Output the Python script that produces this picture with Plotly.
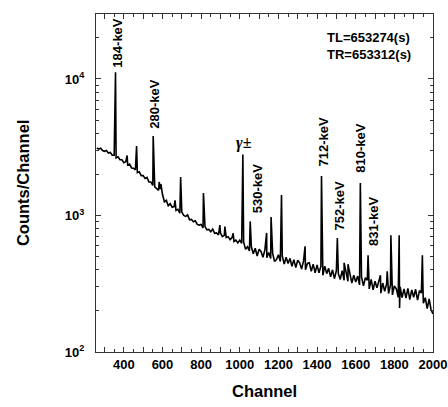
import plotly.graph_objects as go

# ---- data ----
bg_channels = list(range(260, 2001, 10))
bg_counts = [
    3130, 3060, 3110, 2990, 2950, 2990, 2870, 2900, 2760, 2760,
    2640, 2690, 2560, 2560, 2440, 2480, 2340, 2380, 2230, 2220,
    2160, 2060, 2090, 1960, 1960, 1870, 1900, 1760, 1760, 1660,
    1620, 1580, 1530, 1560, 1430, 1260, 1290, 1180, 1220, 1150,
    1160, 1090, 1110, 1040, 1060, 1000, 985, 1010, 930, 935,
    900, 915, 860, 850, 860, 810, 830, 785, 790, 760,
    795, 740, 745, 720, 745, 700, 715, 690, 700, 665,
    690, 645, 660, 630, 660, 625, 640, 565, 590, 550,
    590, 525, 575, 505, 565, 545, 495, 560, 490, 535,
    485, 530, 460, 475, 515, 460, 505, 440, 495, 445,
    485, 425, 475, 415, 470, 450, 405, 465, 400, 445,
    450, 390, 440, 380, 435, 380, 425, 365, 425, 375,
    410, 355, 400, 345, 395, 375, 340, 395, 335, 380,
    330, 375, 320, 365, 325, 360, 310, 355, 305, 350,
    335, 290, 340, 285, 330, 295, 325, 270, 320, 278,
    315, 268, 310, 262, 305, 290, 252, 300, 250, 290,
    248, 292, 242, 285, 252, 288, 240, 282, 270, 228,
    250, 208, 245, 204, 190,
]
peak_channels = [357, 417, 466, 552, 583, 592, 665, 694, 812, 897, 923, 966,
                 1016, 1054, 1139, 1162, 1216, 1338, 1423, 1505, 1540, 1560,
                 1624, 1664, 1728, 1763, 1782, 1825, 1827, 1943, 1945, 1948]
peak_counts = [11200, 2750, 3230, 3820, 1760, 1700, 1290, 1915, 1460, 850, 830, 740,
               2800, 905, 745, 975, 1410, 594, 1945, 684, 450, 440,
               1730, 511, 365, 390, 716, 716, 210, 480, 511, 300]

labels = ["184-keV", "280-keV", "530-keV", "712-keV", "752-keV", "810-keV", "831-keV"]
label_x = [369, 559, 1089, 1432, 1514, 1627, 1693]
label_logy = [4.265, 3.815, 3.199, 3.536, 3.067, 3.496, 2.957]

x_tick_vals = list(range(300, 2001, 100))
x_tick_text = [str(v) if v % 200 == 0 else "" for v in x_tick_vals]
y_tick_vals = [100, 1000, 10000]
y_tick_text = ["10<sup>2</sup>", "10<sup>3</sup>", "10<sup>4</sup>"]
y_minor_vals = [200, 300, 400, 500, 600, 700, 800, 900,
                2000, 3000, 4000, 5000, 6000, 7000, 8000, 9000, 20000, 30000]

# merge background and peaks into one spectrum
pts = sorted(list(zip(bg_channels, bg_counts)) + list(zip(peak_channels, peak_counts)))
xs = [p[0] for p in pts]
ys = [p[1] for p in pts]

FONT = "Liberation Sans, Arial, sans-serif"

fig = go.Figure()
fig.add_trace(go.Scatter(x=xs, y=ys, mode="lines",
                         line=dict(color="black", width=1.6), showlegend=False,
                         hoverinfo="skip"))

ann = []
for t, xv, yv in zip(labels, label_x, label_logy):
    ann.append(dict(x=xv, y=yv, xref="x", yref="y", text=t, showarrow=False,
                    textangle=-90, xanchor="center", yanchor="middle",
                    font=dict(family=FONT, size=13, color="black", weight="bold")))
ann.append(dict(x=1020, y=3.531, xref="x", yref="y", text="<i>γ</i>±", showarrow=False,
                xanchor="center", yanchor="middle",
                font=dict(family="Liberation Serif, Times New Roman, serif", size=16, color="black")))
ann.append(dict(x=0.94, y=0.906, xref="paper", yref="paper",
                text="TL=653274(s)<br>TR=653312(s)", showarrow=False,
                xanchor="right", yanchor="middle", align="left",
                font=dict(family=FONT, size=13, color="black", weight="bold")))
ann.append(dict(x=0.5, y=-0.1164, xref="paper", yref="paper", text="Channel",
                showarrow=False, xanchor="center", yanchor="middle",
                font=dict(family=FONT, size=16.5, color="black", weight="bold")))
ann.append(dict(x=-0.2164, y=0.5, xref="paper", yref="paper", text="Counts/Channel",
                showarrow=False, textangle=-90, xanchor="center", yanchor="middle",
                font=dict(family=FONT, size=16.5, color="black", weight="bold")))

fig.update_layout(
    width=448, height=407,
    margin=dict(l=96, r=15, t=14, b=55),
    paper_bgcolor="white", plot_bgcolor="white",
    font=dict(family=FONT, size=13, color="black", weight="bold"),
    annotations=ann,
    xaxis=dict(range=[256, 2000], tickmode="array", tickvals=x_tick_vals,
               ticktext=x_tick_text, ticks="inside", ticklen=5, tickwidth=1,
               tickcolor="#333", showline=True, linecolor="#333", linewidth=1,
               mirror="allticks", showgrid=False, zeroline=False, automargin=False,
               minor=dict(dtick=50, tick0=0, ticks="inside", ticklen=3,
                          tickcolor="#333", showgrid=False),
               tickfont=dict(family=FONT, size=13, weight="bold")),
    yaxis=dict(type="log", range=[2, 4.476], tickmode="array",
               tickvals=y_tick_vals, ticktext=y_tick_text, ticks="inside",
               ticklen=5, tickwidth=1, tickcolor="#333", showline=True,
               linecolor="#333", linewidth=1, mirror="allticks", showgrid=False,
               zeroline=False, automargin=False, ticklabelstandoff=8,
               minor=dict(tickmode="array", tickvals=y_minor_vals, ticks="inside",
                          ticklen=3, tickcolor="#333", showgrid=False),
               tickfont=dict(family=FONT, size=13, weight="bold")),
)

fig.write_html("out.html", config={"displayModeBar": False},
               post_script="document.body.style.margin='0';")
